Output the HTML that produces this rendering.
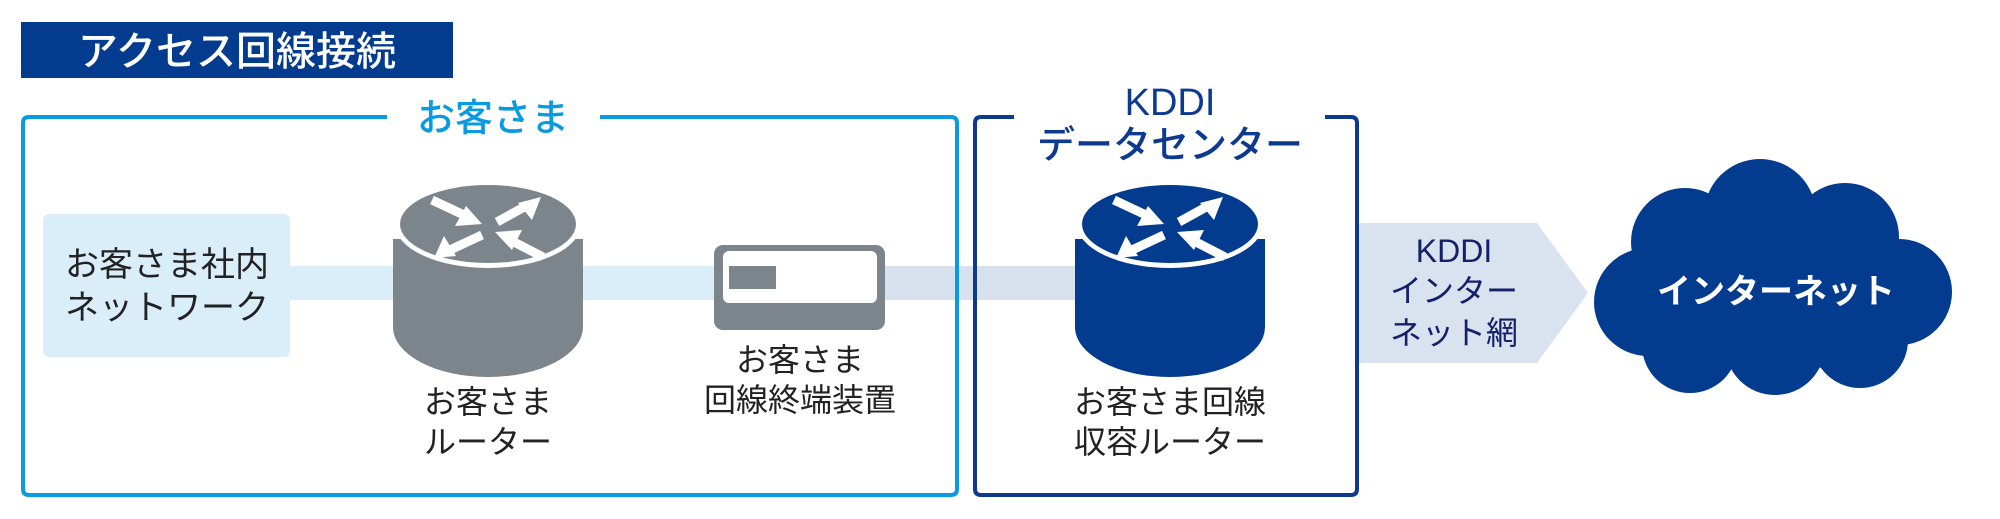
<!DOCTYPE html>
<html><head><meta charset="utf-8"><style>
html,body{margin:0;padding:0;background:#fff;}
svg{display:block}
text{font-family:"Liberation Sans","Noto Sans CJK JP",sans-serif;}
</style></head><body>
<svg width="2000" height="519" viewBox="0 0 2000 519" xmlns="http://www.w3.org/2000/svg">
<!-- title -->
<rect x="21" y="22" width="432" height="56" fill="#033b8f"/>
<text x="237" y="65" font-size="40" fill="#fff" text-anchor="middle" font-weight="500">アクセス回線接続</text>

<!-- bands -->
<rect x="290" y="266" width="430" height="34" fill="#daeef9"/>
<rect x="880" y="266" width="200" height="34" fill="#d8e2ef"/>
<!-- left box -->
<rect x="43" y="214" width="247" height="143" rx="6" fill="#daeef9"/>
<text x="167" y="276" font-size="34" fill="#222" text-anchor="middle">お客さま社内</text>
<text x="167" y="319" font-size="34" fill="#222" text-anchor="middle">ネットワーク</text>

<!-- customer frame -->
<path d="M387 117 H29 Q23 117 23 123 V489 Q23 495 29 495 H951 Q957 495 957 489 V123 Q957 117 951 117 H600" fill="none" stroke="#0a9ae0" stroke-width="4"/>
<text x="493" y="131" font-size="38" fill="#0a9ae0" text-anchor="middle" font-weight="500">お客さま</text>

<!-- KDDI frame -->
<path d="M1014 117 H981 Q975 117 975 123 V489 Q975 495 981 495 H1351 Q1357 495 1357 489 V123 Q1357 117 1351 117 H1325" fill="none" stroke="#0d3a8f" stroke-width="4"/>
<text x="1170" y="115" font-size="38" fill="#0d3a8f" text-anchor="middle" font-weight="500">KDDI</text>
<text x="1170" y="158" font-size="38" fill="#0d3a8f" text-anchor="middle" font-weight="500">データセンター</text>

<!-- router 1 -->
<g>
<path d="M393 239 L393 327 A95 50 0 0 0 583 327 L583 239 Z" fill="#7d858c"/>
<ellipse cx="488" cy="224" rx="93" ry="44" fill="#fff"/>
<ellipse cx="488" cy="224" rx="88" ry="39" fill="#7d858c"/>
<g stroke="#fff" stroke-width="9" fill="#fff">
<line x1="432" y1="200" x2="464" y2="215"/><polygon points="482,224 455,226 466,206" stroke="none"/>
<line x1="497" y1="222" x2="526" y2="206"/><polygon points="541,197 532,220 518,203" stroke="none"/>
<line x1="482" y1="235" x2="450" y2="250"/><polygon points="434,258 444,236 456,256" stroke="none"/>
<line x1="543" y1="257" x2="512" y2="241"/><polygon points="495,232 522,230 512,250" stroke="none"/>
</g>
</g>
<text x="488" y="413" font-size="32" fill="#222" text-anchor="middle">お客さま</text>
<text x="488" y="453" font-size="32" fill="#222" text-anchor="middle">ルーター</text>

<!-- ONT -->
<rect x="714" y="245" width="171" height="85" rx="9" fill="#7d858c"/>
<rect x="723" y="251" width="154" height="52" rx="6" fill="#fff"/>
<rect x="729" y="266" width="47" height="23" fill="#7d858c"/>
<text x="800" y="371" font-size="32" fill="#222" text-anchor="middle">お客さま</text>
<text x="800" y="411" font-size="32" fill="#222" text-anchor="middle">回線終端装置</text>

<!-- router 2 -->
<g>
<path d="M1075 239 L1075 327 A95 50 0 0 0 1265 327 L1265 239 Z" fill="#033b8f"/>
<ellipse cx="1170" cy="224" rx="93" ry="44" fill="#fff"/>
<ellipse cx="1170" cy="224" rx="88" ry="39" fill="#033b8f"/>
<g stroke="#fff" stroke-width="9" fill="#fff" transform="translate(682,0)">
<line x1="432" y1="200" x2="464" y2="215"/><polygon points="482,224 455,226 466,206" stroke="none"/>
<line x1="497" y1="222" x2="526" y2="206"/><polygon points="541,197 532,220 518,203" stroke="none"/>
<line x1="482" y1="235" x2="450" y2="250"/><polygon points="434,258 444,236 456,256" stroke="none"/>
<line x1="543" y1="257" x2="512" y2="241"/><polygon points="495,232 522,230 512,250" stroke="none"/>
</g>
</g>
<text x="1170" y="413" font-size="32" fill="#222" text-anchor="middle">お客さま回線</text>
<text x="1170" y="453" font-size="32" fill="#222" text-anchor="middle">収容ルーター</text>

<!-- arrow -->
<polygon points="1359,223 1537,223 1588,293 1537,363 1359,363" fill="#d9e2ef"/>
<text x="1454" y="262" font-size="32" fill="#14206a" text-anchor="middle">KDDI</text>
<text x="1454" y="302" font-size="32" fill="#14206a" text-anchor="middle">インター</text>
<text x="1454" y="344" font-size="32" fill="#14206a" text-anchor="middle">ネット網</text>

<!-- cloud -->
<g fill="#033b8f">
<circle cx="1760" cy="215" r="56"/>
<circle cx="1685" cy="242" r="54"/>
<circle cx="1845" cy="237" r="54"/>
<circle cx="1899" cy="292" r="53"/>
<circle cx="1648" cy="302" r="54"/>
<circle cx="1690" cy="345" r="48"/>
<circle cx="1775" cy="345" r="50"/>
<circle cx="1860" cy="340" r="48"/>
<ellipse cx="1775" cy="288" rx="130" ry="85"/>
</g>
<text x="1776" y="303" font-size="34" fill="#fff" text-anchor="middle" font-weight="bold">インターネット</text>
</svg>
</body></html>
